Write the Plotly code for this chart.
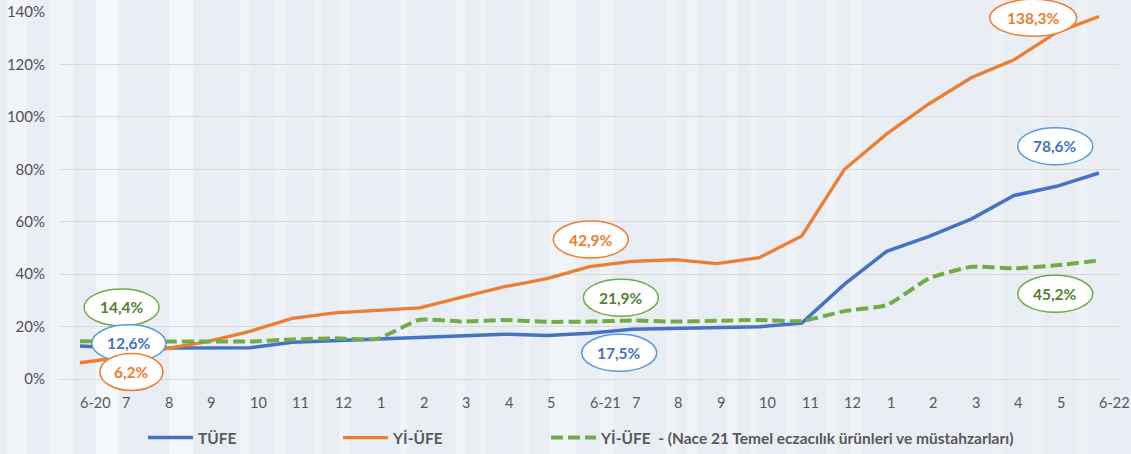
import plotly.graph_objects as go

# ---------------- data ----------------
months = ["6-20", "7", "8", "9", "10", "11", "12", "1", "2", "3", "4", "5",
          "6-21", "7", "8", "9", "10", "11", "12", "1", "2", "3", "4", "5", "6-22"]

tufe = [12.6, 11.8, 11.8, 11.7, 11.9, 14.0, 14.6, 15.0, 15.6, 16.2, 17.1, 16.6,
        17.5, 19.0, 19.3, 19.6, 19.9, 21.3, 36.1, 48.7, 54.4, 61.1, 70.0, 73.5, 78.6]

yiufe = [6.2, 8.3, 11.5, 14.3, 18.2, 23.1, 25.2, 26.2, 27.1, 31.2, 35.2, 38.3,
         42.9, 44.9, 45.5, 44.0, 46.3, 54.6, 79.9, 93.5, 105.0, 115.0, 121.8, 132.2, 138.3]

nace21 = [14.4, 14.3, 14.3, 14.3, 14.3, 15.1, 15.5, 15.3, 22.6, 21.9, 22.5, 21.8,
          21.9, 22.3, 21.9, 22.2, 22.5, 22.1, 25.9, 28.2, 38.4, 42.8, 42.2, 43.4, 45.2]

y_ticks = [0, 20, 40, 60, 80, 100, 120, 140]

series_names = ["TÜFE", "Yİ-ÜFE", "Yİ-ÜFE  - (Nace 21 Temel eczacılık ürünleri ve müstahzarları)"]

BLUE, ORANGE, GREEN = "#4472C4", "#ED7D31", "#70AD47"
GRAY = "#595959"
FONT = "Lato"
W, H = 1131, 454
ML, MR, MT, MB = 60, 12, 12, 75
PW, PH = W - ML - MR, H - MT - MB

x_idx = list(range(len(months)))

def pct(v):
    return f"{v:.1f}".replace(".", ",") + "%"

def px_x(px):
    return (px - ML) / PW

def px_y(py):
    return (H - MB - py) / PH

fig = go.Figure()

# ---------------- decorative background stripes ----------------
stripes = [(7, 27, "#F1F5F9"), (49, 73, "#F1F5F9"), (96, 118, "#F5F8FB"),
           (169, 193, "#F3F6FA"), (240, 251, "#EFF3F8"), (275, 287, "#EFF3F8"),
           (313, 322, "#EFF3F8"), (340, 349, "#EFF3F8"), (400, 407, "#F1F5F9"),
           (456, 465, "#EFF3F8"), (480, 487, "#EFF3F8"), (524, 531, "#EFF3F8"),
           (549, 576, "#F0F4F8"), (600, 614, "#EFF3F8"), (665, 676, "#EFF3F8"),
           (687, 698, "#EFF3F8"), (727, 738, "#EFF3F8"), (749, 756, "#EFF3F8"),
           (785, 796, "#EFF3F8"), (825, 836, "#EFF3F8"), (851, 862, "#EFF3F8"),
           (993, 1004, "#EEF2F7"), (1033, 1044, "#EEF2F7"), (1076, 1087, "#EEF2F7")]
for a, b, c in stripes:
    fig.add_shape(type="rect", xref="paper", yref="paper",
                  x0=px_x(a), x1=px_x(b), y0=px_y(H), y1=px_y(0),
                  fillcolor=c, line=dict(width=0), layer="below")

fig.add_trace(go.Scatter(x=x_idx, y=tufe, mode="lines", name=series_names[0],
                         line=dict(color=BLUE, width=3.5), legend="legend"))
fig.add_trace(go.Scatter(x=x_idx, y=yiufe, mode="lines", name=series_names[1],
                         line=dict(color=ORANGE, width=3.3), legend="legend2"))
fig.add_trace(go.Scatter(x=x_idx, y=nace21, mode="lines", name=series_names[2],
                         line=dict(color=GREEN, width=4, dash="12px,5px",
                                   shape="spline", smoothing=0.5),
                         legend="legend3"))

# ---------------- value callouts (ellipses) ----------------
# (series values, index, text colour, border colour, centre x idx, centre y %, width px)
callouts = [
    (nace21, 0, "#548235", GREEN, 0.98, 27.3, 75),
    (tufe, 0, BLUE, "#5B9BD5", 1.15, 13.6, 74),
    (yiufe, 0, ORANGE, ORANGE, 1.21, 2.7, 63),
    (yiufe, 12, ORANGE, ORANGE, 12.03, 53.2, 75),
    (nace21, 12, "#548235", GREEN, 12.74, 31.0, 75),
    (tufe, 12, BLUE, "#5B9BD5", 12.70, 10.0, 75),
    (yiufe, 24, ORANGE, ORANGE, 22.45, 137.8, 87),
    (tufe, 24, BLUE, "#5B9BD5", 22.97, 88.8, 75),
    (nace21, 24, "#548235", GREEN, 22.97, 32.5, 75),
]
YMAX = 140
for vals, i, tcol, bcol, cx, cy, w in callouts:
    fig.add_shape(type="circle", xref="x", yref="paper",
                  xsizemode="pixel", ysizemode="pixel",
                  xanchor=cx, yanchor=cy / YMAX,
                  x0=-w / 2, x1=w / 2, y0=-18.5, y1=18.5,
                  line=dict(color=bcol, width=1.5), fillcolor="white",
                  layer="above")
    fig.add_annotation(x=cx, y=cy / YMAX, xref="x", yref="paper",
                       text=f"<b>{pct(vals[i])}</b>", showarrow=False,
                       font=dict(family=FONT, size=15.5, color=tcol),
                       xanchor="center", yanchor="middle")

# ---------------- x tick labels (left aligned at each point) ----------------
for i, lab in enumerate(months):
    fig.add_annotation(x=i, y=px_y(402), xref="x", yref="paper", text=lab,
                       showarrow=False, xanchor="left", yanchor="middle",
                       xshift=-2,
                       font=dict(family=FONT, size=14.5, color=GRAY))

legend_common = dict(orientation="h", yanchor="middle", y=px_y(438),
                     xanchor="left", bgcolor="rgba(0,0,0,0)",
                     font=dict(family=FONT, size=15.5, color=GRAY, weight="bold"),
                     itemwidth=45)

fig.update_layout(
    width=W, height=H,
    margin=dict(l=ML, r=MR, t=MT, b=MB, autoexpand=False),
    paper_bgcolor="#E8EEF4", plot_bgcolor="rgba(0,0,0,0)",
    showlegend=True,
    legend=dict(legend_common, x=px_x(143)),
    legend2=dict(legend_common, x=px_x(338)),
    legend3=dict(legend_common, x=px_x(546)),
    xaxis=dict(range=[-0.471, 24.471], showgrid=False, zeroline=False,
               showticklabels=False, showline=False, ticks="", automargin=False),
    yaxis=dict(range=[0, YMAX], tickvals=y_ticks,
               ticktext=[f"{v}%" for v in y_ticks],
               showgrid=True, gridcolor="#D9D9D9", gridwidth=1.3,
               zeroline=True, zerolinecolor="#D9D9D9", zerolinewidth=1.3,
               ticks="", ticklabelstandoff=14, showline=False, automargin=False,
               tickfont=dict(family=FONT, size=15, color="#505050")),
)

fig.write_html("out.html", config={"displayModeBar": False},
               post_script="document.body.style.margin='0';")
